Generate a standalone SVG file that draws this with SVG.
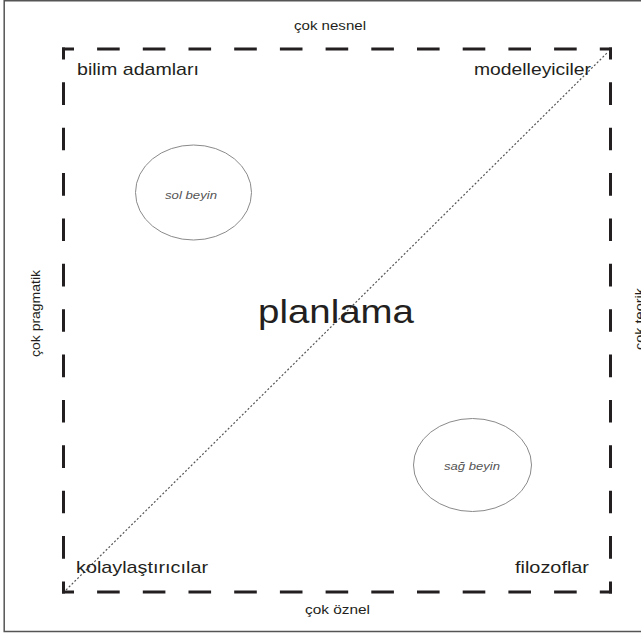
<svg xmlns="http://www.w3.org/2000/svg" width="641" height="634" viewBox="0 0 641 634">
<style>
.lbl{font-family:"Liberation Sans",Arial,sans-serif;fill:#231f20}
.corner{font-size:17px}
.axis{font-size:12px}
.brain{font-family:"Liberation Sans",Arial,sans-serif;font-size:11px;font-style:italic;fill:#555}
.dash{stroke:#231f20;stroke-width:3;fill:none}
.ell{fill:#fff;stroke:#8a8a8a;stroke-width:1}
</style>
<rect x="0" y="0" width="641" height="634" fill="#fff"/>
<g id="frame">
<path d="M660,0.8 H4.2 V631.6 H660" fill="none" stroke="#555" stroke-width="1.5"/>
</g>
<g id="square">
<line class="dash" x1="62" y1="49" x2="612" y2="49" stroke-dasharray="22.6 23.1" stroke-dashoffset="10.6"/>
<line class="dash" x1="62" y1="592" x2="612" y2="592" stroke-dasharray="22.6 23.1" stroke-dashoffset="10.6"/>
<line class="dash" x1="63.5" y1="47.5" x2="63.5" y2="593.5" stroke-dasharray="22.6 22.78" stroke-dashoffset="10.6"/>
<line class="dash" x1="610.5" y1="47.5" x2="610.5" y2="593.5" stroke-dasharray="22.6 22.78" stroke-dashoffset="10.6"/>
</g>
<g id="connectors">
<line x1="66" y1="590" x2="608" y2="52" stroke="#555" stroke-width="1.2" stroke-dasharray="2 2"/>
</g>
<g id="axis-labels">
<text class="lbl axis" x="330" y="30" text-anchor="middle" textLength="72" lengthAdjust="spacingAndGlyphs">çok nesnel</text>
<text class="lbl axis" x="337.5" y="614" text-anchor="middle" textLength="65" lengthAdjust="spacingAndGlyphs">çok öznel</text>
<text class="lbl axis" transform="translate(40,313.5) rotate(-90)" text-anchor="middle" textLength="87" lengthAdjust="spacingAndGlyphs">çok pragmatik</text>
<text class="lbl axis" transform="translate(644,319) rotate(-90)" text-anchor="middle" textLength="62" lengthAdjust="spacingAndGlyphs">çok teorik</text>
</g>
<g id="bilim-adamlari"><text class="lbl corner" x="77" y="75" textLength="122" lengthAdjust="spacingAndGlyphs">bilim adamları</text></g>
<g id="modelleyiciler"><text class="lbl corner" x="591" y="75" text-anchor="end" textLength="117" lengthAdjust="spacingAndGlyphs">modelleyiciler</text></g>
<g id="kolaylastiricilar"><text class="lbl corner" x="76" y="573" textLength="132" lengthAdjust="spacingAndGlyphs">kolaylaştırıcılar</text></g>
<g id="filozoflar"><text class="lbl corner" x="589" y="573" text-anchor="end" textLength="74" lengthAdjust="spacingAndGlyphs">filozoflar</text></g>
<g id="planlama"><text class="lbl" x="258" y="323" font-size="33" textLength="156" lengthAdjust="spacingAndGlyphs">planlama</text></g>
<g id="sol-beyin">
<ellipse class="ell" cx="193.5" cy="192.5" rx="58" ry="47.5"/>
<text class="brain" x="191" y="199" text-anchor="middle" textLength="52" lengthAdjust="spacingAndGlyphs">sol beyin</text>
</g>
<g id="sag-beyin">
<ellipse class="ell" cx="472.5" cy="465" rx="59" ry="46.5"/>
<text class="brain" x="472" y="470" text-anchor="middle" textLength="56" lengthAdjust="spacingAndGlyphs">sağ beyin</text>
</g>
</svg>
